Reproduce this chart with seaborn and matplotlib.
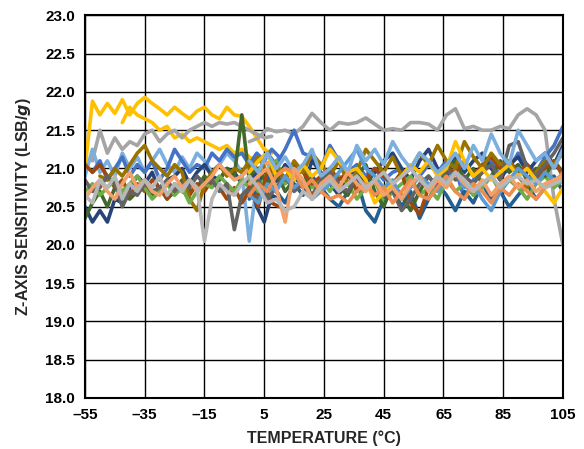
import numpy as np
import pandas as pd
import matplotlib
matplotlib.use("Agg")
import matplotlib.pyplot as plt
import seaborn as sns

nan = np.nan
# Temperature grids (°C)
temp_left = [-55 + 2.5 * i for i in range(27)]     # first sweep -55 .. 10
temp_right = [3 * i for i in range(36)]            # second sweep 0 .. 105

left = {
    "L_gold1": [21.0, 21.88, 21.7, 21.85, 21.72, 21.9, 21.7, 21.85, 21.93, 21.85, 21.78, 21.7, 21.8, 21.72, 21.65, 21.75, 21.8, 21.7, 21.65, 21.8, 21.7, 21.68, 21.55, 21.4, 21.25, 21.2, nan],
    "L_gold2": [nan, nan, nan, nan, nan, 21.6, 21.8, 21.7, 21.65, 21.6, 21.5, 21.55, 21.4, 21.45, 21.35, 21.4, 21.35, 21.3, 21.25, 21.3, 21.2, 21.25, 21.15, 21.1, nan, nan, nan],
    "L_gray": [nan, 21.1, 21.5, 21.2, 21.4, 21.25, 21.35, 21.3, 21.45, 21.5, 21.35, 21.45, 21.5, 21.4, 21.5, 21.55, 21.6, 21.55, 21.6, 21.58, 21.6, 21.55, 21.5, 21.45, 21.4, 21.42, nan],
    "L_lblue": [20.9, 21.25, 20.95, 21.1, 20.9, 21.2, 21.0, 21.15, 20.95, 21.1, 21.25, 21.05, 20.95, 21.15, 21.0, 21.2, 21.1, 20.95, 21.05, 21.2, 21.1, 20.95, 20.05, 20.8, 21.1, 21.0, 21.15],
    "L_blue": [nan, 20.95, 21.1, 20.85, 21.0, 21.15, 20.9, 21.05, 20.95, 21.1, 20.85, 21.0, 21.25, 21.1, 20.95, 21.05, 21.0, 21.2, 21.1, 21.25, 21.15, 21.2, 21.05, 21.2, 21.1, 21.25, 21.15],
    "L_navy": [20.5, 20.3, 20.45, 20.3, 20.6, 20.55, 20.75, 20.9, 20.8, 20.95, 20.7, 20.85, 20.9, 21.0, 20.8, 20.95, 21.05, 20.9, 20.85, 21.0, 20.95, 20.8, 20.85, 20.5, 20.3, 20.65, 20.6],
    "L_dgreen": [20.35, 20.55, 20.7, 20.5, 20.75, 20.65, 20.6, 20.7, 20.8, 20.65, 20.75, 20.6, 20.7, 20.85, 20.7, 20.75, 20.9, 20.8, 20.85, 21.0, 20.9, 21.7, 20.85, 20.75, 20.9, 20.8, 20.85],
    "L_brown": [21.05, 20.95, 21.05, 20.9, 20.75, 20.85, 20.65, 20.8, 20.7, 20.85, 20.75, 20.6, 20.8, 20.7, 20.65, 20.8, 20.7, 20.85, 20.75, 20.6, 20.75, 20.55, 20.7, 20.65, 20.8, 20.55, 20.5],
    "L_olive": [nan, nan, 20.9, 20.85, 21.0, 20.9, 21.05, 21.2, 21.3, 21.1, 21.0, 20.9, 21.05, 20.95, 20.6, 20.45, 20.8, 20.95, 21.05, 20.9, 21.0, 20.95, 21.1, 21.0, 20.85, 20.95, 21.05],
    "L_green": [20.7, 20.8, 20.65, 20.75, 20.85, 20.7, 20.8, 20.9, 20.75, 20.6, 20.7, 20.8, 20.65, 20.75, 20.55, 20.7, 20.8, 20.75, 20.9, 20.8, 20.7, 20.85, 20.75, 20.9, 21.0, 20.85, 20.95],
    "L_dgray": [20.85, 20.7, 20.75, 20.9, 20.8, 20.5, 20.7, 20.65, 20.8, 20.7, 20.75, 20.85, 20.7, 20.8, 20.75, 20.9, 20.8, 20.85, 20.7, 20.8, 20.2, 20.65, 20.75, 20.6, 20.7, 20.8, 20.65],
    "L_orange": [20.6, 20.75, 20.85, 20.7, 20.6, 20.8, 20.95, 20.75, 20.85, 20.7, 20.65, 20.8, 20.9, 20.75, 20.85, 20.7, 20.8, 20.9, 21.05, 20.95, 20.85, 20.9, 21.0, 20.95, 21.05, 21.1, 21.0],
    "L_lgray": [20.65, 20.55, 20.85, 20.75, 20.9, 20.6, 20.8, 20.7, 20.85, 20.75, 20.9, 20.65, 20.8, 20.7, 20.85, 20.75, 20.05, 20.6, 20.8, 20.7, 20.65, 20.8, 20.9, 20.75, 20.85, 20.7, 20.8],
}

right = {
    "R_gray": [21.35, 21.4, 21.52, 21.48, 21.5, 21.45, 21.55, 21.72, 21.6, 21.5, 21.6, 21.58, 21.6, 21.66, 21.58, 21.5, 21.52, 21.5, 21.6, 21.6, 21.58, 21.5, 21.7, 21.78, 21.52, 21.55, 21.5, 21.5, 21.55, 21.52, 21.7, 21.78, 21.7, 21.5, 20.6, 20.0],
    "R_blue": [20.95, 21.1, 21.2, 21.05, 21.25, 21.5, 21.2, 21.15, 21.0, 21.3, 21.1, 20.95, 21.05, 20.9, 21.0, 20.85, 20.95, 21.0, 20.8, 20.9, 21.05, 20.95, 21.1, 21.0, 20.6, 20.85, 20.95, 21.1, 20.9, 21.0, 21.2, 21.05, 20.95, 21.15, 21.3, 21.55],
    "R_navy": [20.8, 21.0, 20.7, 20.85, 21.05, 20.9, 20.75, 21.1, 20.95, 20.8, 20.65, 20.9, 21.0, 20.8, 20.95, 21.1, 21.2, 21.0, 20.85, 21.1, 21.25, 21.0, 20.9, 21.15, 20.95, 21.1, 21.2, 21.0, 20.85, 21.05, 21.15, 20.95, 21.1, 21.2, 21.05, 21.3],
    "R_dblue": [20.6, 20.75, 20.9, 20.7, 20.55, 20.8, 20.65, 20.9, 20.75, 20.6, 20.5, 20.7, 20.85, 20.45, 20.3, 20.6, 20.75, 20.5, 20.7, 20.35, 20.6, 20.8, 20.65, 20.45, 20.7, 20.55, 20.8, 20.6, 20.7, 20.5, 20.65, 20.8, 20.6, 20.75, 20.9, 20.7],
    "R_green": [20.85, 20.7, 20.95, 21.1, 20.8, 20.9, 21.05, 20.75, 20.85, 20.7, 20.9, 20.8, 20.6, 20.75, 20.85, 20.55, 20.7, 20.8, 20.9, 20.65, 20.75, 20.6, 20.85, 20.7, 20.8, 20.65, 20.75, 20.9, 20.7, 20.85, 20.75, 20.6, 20.8, 20.9, 20.75, 20.85],
    "R_dgreen": [20.9, 21.0, 20.8, 20.95, 20.7, 20.85, 21.0, 20.6, 20.8, 20.9, 20.75, 20.65, 20.9, 21.05, 20.7, 20.5, 20.8, 20.65, 20.45, 20.7, 20.9, 20.75, 20.95, 21.1, 20.85, 21.0, 20.8, 20.9, 21.1, 20.95, 21.05, 20.85, 21.0, 20.9, 21.1, 20.95],
    "R_brown": [20.75, 20.5, 20.95, 21.0, 20.85, 21.05, 20.95, 20.8, 20.9, 21.0, 20.85, 20.95, 20.7, 20.85, 21.0, 20.9, 20.8, 20.95, 20.55, 20.4, 20.75, 20.9, 21.0, 20.95, 21.1, 20.9, 21.05, 21.15, 21.0, 21.1, 20.95, 21.05, 20.85, 21.0, 21.1, 20.9],
    "R_olive": [21.0, 21.15, 20.95, 21.05, 20.85, 21.1, 20.95, 21.2, 21.05, 20.9, 21.1, 20.8, 20.95, 21.25, 21.1, 20.95, 21.15, 20.9, 21.0, 21.2, 21.05, 21.3, 21.1, 21.0, 21.35, 21.15, 21.0, 21.2, 21.05, 21.1, 20.9, 20.75, 20.95, 21.1, 21.05, 21.2],
    "R_dgray": [20.7, 20.85, 20.6, 20.75, 20.9, 20.7, 20.8, 20.65, 20.85, 20.95, 20.8, 20.7, 20.9, 20.75, 20.85, 20.95, 20.7, 20.45, 20.6, 20.8, 20.9, 20.75, 21.0, 20.85, 20.9, 20.8, 20.95, 21.05, 20.85, 21.3, 21.35, 21.0, 20.9, 21.05, 21.2, 21.4],
    "R_gold": [20.95, 21.1, 21.2, 20.9, 21.0, 20.85, 21.05, 20.9, 21.0, 21.25, 21.1, 20.95, 21.0, 20.85, 20.55, 20.7, 20.8, 20.9, 21.05, 20.95, 21.1, 20.9, 21.0, 21.35, 21.1, 20.9, 21.0, 20.85, 20.95, 21.05, 20.9, 21.0, 20.85, 20.7, 20.55, 20.75],
    "R_blue2": [20.65, 20.55, 20.8, 20.7, 20.9, 20.75, 20.85, 20.6, 20.7, 20.8, 20.95, 21.1, 21.25, 21.0, 20.9, 20.75, 20.85, 20.6, 20.75, 20.9, 20.8, 20.7, 20.85, 20.95, 20.75, 20.8, 20.6, 20.45, 20.7, 20.85, 21.0, 20.9, 20.8, 20.95, 20.85, 20.9],
    "R_lblue": [21.1, 20.95, 21.2, 21.0, 21.15, 20.95, 21.05, 21.25, 20.9, 21.0, 21.15, 20.95, 21.3, 21.1, 21.25, 21.05, 21.35, 21.15, 21.0, 21.2, 21.1, 20.95, 21.05, 21.2, 21.0, 21.3, 21.1, 21.45, 21.2, 21.05, 21.5, 21.3, 21.1, 21.2, 21.0, 21.25],
    "R_orange2": [20.65, 20.8, 20.7, 20.9, 21.0, 20.95, 20.75, 20.85, 20.7, 20.6, 20.65, 20.55, 20.7, 20.8, 20.65, 20.75, 20.55, 20.7, 20.85, 20.65, 20.6, 20.75, 20.9, 20.7, 20.6, 20.8, 20.7, 20.55, 20.75, 20.65, 20.8, 20.7, 20.6, 20.75, 20.8, 20.95],
    "R_orange": [20.8, 20.9, 21.0, 20.75, 20.3, 21.0, 20.85, 20.6, 20.8, 20.9, 20.75, 20.95, 20.8, 20.7, 20.85, 20.65, 20.75, 20.6, 20.8, 20.9, 20.7, 20.85, 20.75, 20.95, 20.8, 20.7, 20.85, 20.65, 20.8, 20.9, 20.75, 20.85, 20.7, 20.8, 20.85, 20.9],
    "R_lgray": [20.9, 20.75, 20.55, 20.6, 20.45, 20.5, 20.7, 20.6, 20.75, 20.85, 20.7, 20.8, 20.9, 20.75, 20.85, 20.95, 20.8, 20.9, 21.0, 20.85, 20.75, 20.9, 20.8, 20.95, 20.85, 20.7, 20.8, 20.9, 20.75, 20.85, 20.9, 20.8, 20.85, 20.75, 20.8, 20.85],
}

colors = {
    "gold": "#FFC000", "gold1": "#FFC000", "gold2": "#FFC000",
    "gray": "#A5A5A5", "lgray": "#B7B7B7", "dgray": "#636363",
    "blue": "#4472C4", "blue2": "#5B9BD5", "lblue": "#7CAFDD",
    "navy": "#264478", "dblue": "#255E91",
    "green": "#70AD47", "dgreen": "#43682B",
    "brown": "#9E480E", "olive": "#997300",
    "orange": "#F4A06A", "orange2": "#ED8E4E",
}

rows = []
for name, vals in left.items():
    for t, v in zip(temp_left, vals):
        rows.append((name, t, v))
for name, vals in right.items():
    for t, v in zip(temp_right, vals):
        rows.append((name, t, v))
df = pd.DataFrame(rows, columns=["series", "temp", "value"]).dropna()
palette = {n: colors[n.split("_", 1)[1]] for n in df["series"].unique()}

sns.set_style("white")
plt.rcParams["font.family"] = ["Liberation Sans", "DejaVu Sans"]
plt.rcParams["font.weight"] = "bold"

fig = plt.figure(figsize=(5.84, 4.49), dpi=100)
ax = fig.add_axes([0.1455, 0.1136, 0.8185, 0.852])

sns.lineplot(data=df, x="temp", y="value", hue="series", palette=palette,
             hue_order=list(left.keys()) + list(right.keys()),
             estimator=None, sort=True, legend=False, linewidth=2.6, ax=ax, zorder=3)

ax.set_xlim(-55, 105)
ax.set_ylim(18.0, 23.0)
xt = list(range(-55, 106, 20))
ax.set_xticks(xt)
ax.set_xticklabels([("\u2013" + str(abs(t))) if t < 0 else str(t) for t in xt])
yt = [18.0 + 0.5 * i for i in range(11)]
ax.set_yticks(yt)
ax.set_yticklabels([f"{v:.1f}" for v in yt])
ax.grid(True, color="black", linewidth=1.0, zorder=0)
ax.set_axisbelow(True)
for s in ax.spines.values():
    s.set_color("black")
    s.set_linewidth(1.5)
    s.set_zorder(5)
ax.tick_params(axis="both", length=0, pad=7, labelsize=11, colors="black")
for lab in ax.get_xticklabels() + ax.get_yticklabels():
    lab.set_fontweight("bold")
ax.set_xlabel("TEMPERATURE (°C)", fontsize=11.5, fontweight="bold", labelpad=6)
ax.set_ylabel("Z-AXIS SENSITIVITY (LSB/$\\boldsymbol{g}$)", fontsize=11.5, fontweight="bold", labelpad=9)

fig.savefig("out.png", dpi=100)
